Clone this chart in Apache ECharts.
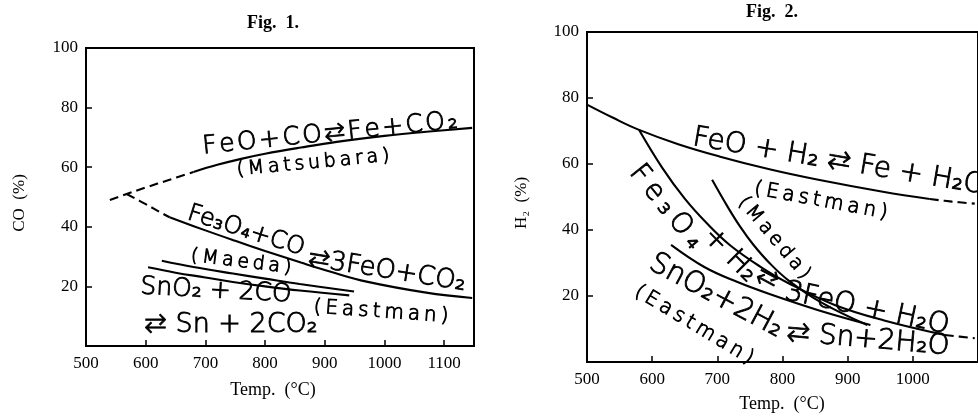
<!DOCTYPE html>
<html>
<head>
<meta charset="utf-8">
<script src="https://cdn.jsdelivr.net/npm/echarts/dist/echarts.min.js"></script>
<style>
html,body{margin:0;padding:0;background:#fff;}
#c{width:978px;height:416px;}
</style>
</head>
<body>
<div id="c"></div>
<script>
// ---------------- DATA ----------------
// Fig. 1 : CO (%) vs Temp (°C)
const f1XTicks = [500, 600, 700, 800, 900, 1000, 1100];
const f1YTicks = [20, 40, 60, 80, 100];
// FeO + CO <-> Fe + CO2 (Matsubara)
const f1FeODashT = [540, 568, 600, 640, 680];
const f1FeODashV = [49, 51, 53.2, 55.8, 58.4];
const f1FeOT = [680, 720, 760, 800, 860, 920, 1000, 1070, 1147];
const f1FeOV = [58.4, 60.8, 62.8, 64.5, 66.6, 68.5, 70.5, 71.9, 73.2];
// Fe3O4 + CO <-> 3FeO + CO2 (Maeda)
const f1Fe3O4DashT = [568, 600, 627, 640];
const f1Fe3O4DashV = [51, 47.6, 44.6, 43.2];
const f1Fe3O4T = [640, 700, 750, 800, 860, 910, 970, 1070, 1147];
const f1Fe3O4V = [43.2, 38.8, 35.3, 31.9, 28, 24.9, 21.6, 17.9, 16.1];
// SnO2 + 2CO <-> Sn + 2CO2 (two curves)
const f1SnAT = [627, 680, 746, 800, 858, 949];
const f1SnAV = [28.6, 26.5, 24.3, 22.6, 20.8, 18.3];
const f1SnBT = [604, 650, 700, 746, 800, 858, 941];
const f1SnBV = [26.4, 24.6, 23, 21.5, 20, 18.6, 17];

// Fig. 2 : H2 (%) vs Temp (°C)
const f2XTicks = [500, 600, 700, 800, 900, 1000];
const f2YTicks = [20, 40, 60, 80, 100];
// FeO + H2 <-> Fe + H2O (Eastman)
const f2FeOT = [500, 540, 578, 640, 703, 780, 853, 954, 1026];
const f2FeOV = [78, 74, 70.5, 66, 62.3, 58.4, 55.3, 51.6, 49.4];
const f2FeODashT = [1026, 1060, 1095];
const f2FeODashV = [49.4, 48.6, 48];
// Fe3O4 + H2 <-> 3FeO + H2O
const f2Fe3O4T = [580, 615, 650, 685, 720, 765, 810, 880, 956, 1049];
const f2Fe3O4V = [70.3, 59, 49.5, 41.8, 35.3, 29, 23.8, 17.3, 12.6, 8.2];
const f2Fe3O4DashT = [1049, 1095];
const f2Fe3O4DashV = [8.2, 7.2];
// (Maeda)
const f2MaedaT = [692, 715, 735, 755, 780, 810, 860, 930];
const f2MaedaV = [55.2, 47.3, 41, 35.6, 30, 24.6, 18, 11.2];
// SnO2 + 2H2 <-> Sn + 2H2O (Eastman)
const f2SnT = [629, 680, 730, 780, 855, 935];
const f2SnV = [35.5, 28.8, 24.3, 20.6, 15.7, 11.2];

// Texts
const titles = ['Fig.  1.', 'Fig.  2.'];
const xNames = ['Temp.  (°C)', 'Temp.  (°C)'];
const yNames = ['CO  (%)', 'H₂  (%)'];

// ---------------- CHART ----------------
const chart = echarts.init(document.getElementById('c'), null, {renderer: 'canvas'});
const pts = (T, V) => T.map((t, i) => [t, V[i]]);
const sp = s => s.split('').join('\u2009');
const sph = s => s.split('').join('\u200A');
function line(T, V, gi, dashed) {
  return {
    type: 'line', xAxisIndex: gi, yAxisIndex: gi, data: pts(T, V),
    smooth: 0.4, showSymbol: false, symbol: 'none',
    silent: true, animation: false,
    lineStyle: {color: '#000', width: 2.1, type: dashed ? [9, 5] : 'solid'}
  };
}
const serif = "'Liberation Serif', 'DejaVu Serif', serif";
const hand = "'DejaVu Sans', sans-serif";
function xAx(gi, max, ticks) {
  return {
    gridIndex: gi, type: 'value', min: ticks[0], max: max, interval: ticks[1] - ticks[0],
    axisLine: {show: true, lineStyle: {color: '#000', width: 2}},
    axisTick: {show: true, inside: true, length: 6, lineStyle: {color: '#000', width: 1.5}},
    axisLabel: {color: '#000', fontFamily: serif, fontSize: 17, margin: 9, showMaxLabel: false,
      formatter: v => String(v)},
    splitLine: {show: false}
  };
}
function yAx(gi, ticks) {
  return {
    gridIndex: gi, type: 'value', min: 0, max: ticks[ticks.length - 1], interval: ticks[1] - ticks[0],
    axisLine: {show: true, lineStyle: {color: '#000', width: 2}},
    axisTick: {show: true, inside: true, length: 6, lineStyle: {color: '#000', width: 1.5}},
    axisLabel: {color: '#000', fontFamily: serif, fontSize: 17, margin: 8, showMinLabel: false,
      formatter: v => String(v)},
    splitLine: {show: false}
  };
}
function txt(text, x, y, tilt, size, font, weight) {
  const handStyle = !font;
  return {
    type: 'text', x: x, y: y, rotation: tilt * Math.PI / 180, silent: true,
    style: {
      text: text, fill: '#000',
      stroke: handStyle ? '#000' : null, lineWidth: handStyle ? 0.9 : 0,
      font: (weight || '300') + ' ' + size + 'px ' + (font || hand),
      textAlign: 'center', textVerticalAlign: 'middle', align: 'center', verticalAlign: 'middle'
    }
  };
}

const option = {
  animation: false,
  backgroundColor: '#fff',
  grid: [
    {left: 86, top: 48, width: 388, height: 298, show: true, borderColor: '#000', borderWidth: 2, backgroundColor: 'transparent'},
    {left: 587, top: 32, width: 399, height: 330, show: true, borderColor: '#000', borderWidth: 2, backgroundColor: 'transparent'}
  ],
  xAxis: [xAx(0, 1150, f1XTicks), xAx(1, 1100, f2XTicks)],
  yAxis: [yAx(0, f1YTicks), yAx(1, f2YTicks)],
  series: [
    line(f1FeODashT, f1FeODashV, 0, true),
    line(f1FeOT, f1FeOV, 0, false),
    line(f1Fe3O4DashT, f1Fe3O4DashV, 0, true),
    line(f1Fe3O4T, f1Fe3O4V, 0, false),
    line(f1SnAT, f1SnAV, 0, false),
    line(f1SnBT, f1SnBV, 0, false),
    line(f2FeOT, f2FeOV, 1, false),
    line(f2FeODashT, f2FeODashV, 1, true),
    line(f2Fe3O4T, f2Fe3O4V, 1, false),
    line(f2Fe3O4DashT, f2Fe3O4DashV, 1, true),
    line(f2MaedaT, f2MaedaV, 1, false),
    line(f2SnT, f2SnV, 1, false)
  ],
  graphic: [
    // titles and axis names
    txt(titles[0], 273, 23, 0, 18, serif, 'bold'),
    txt(titles[1], 772, 12, 0, 18, serif, 'bold'),
    txt(xNames[0], 273, 390, 0, 18, serif, 'normal'),
    txt(xNames[1], 782, 404, 0, 18, serif, 'normal'),
    txt(yNames[0], 20, 203, 90, 17, serif, 'normal'),
    txt(yNames[1], 522, 203, 90, 17, serif, 'normal'),
    // Fig. 1 annotations
    txt(sph('FeO+CO⇄Fe+CO₂'), 330, 134, 5.8, 25),
    txt(sp('(Matsubara)'), 313, 163, 5.4, 19),
    txt('Fe₃O₄+CO', 246, 231, -17.5, 24),
    txt('⇄3FeO+CO₂', 387, 271, -9, 26),
    txt(sp('(Maeda)'), 241, 262, -7, 19),
    txt('SnO₂ + 2CO', 216, 291, -3, 25),
    txt(sp('(Eastman)'), 381, 312, -4, 20),
    txt('⇄ Sn + 2CO₂', 231, 325, 0, 27),
    // Fig. 2 annotations
    txt('FeO + H₂ ⇄ Fe + H₂O', 839, 162, -9.5, 28),
    txt(sp('(Eastman)'), 821, 201, -10.5, 20),
    txt(sp('Fe₃O₄'), 666, 207, -51, 28),
    txt('+ H₂', 730, 255, -45, 28),
    txt('⇄', 767, 279, -28, 26),
    txt('3FeO + H₂O', 867, 309, -12, 28),
    txt(sp('(Maeda)'), 774, 238, -50, 19),
    txt('SnO₂+2H₂', 716, 296, -28, 29),
    txt('⇄ Sn+2H₂O', 868, 340, -5, 28),
    txt(sp('(Eastman)'), 694, 325, -31, 20)
  ]
};
chart.setOption(option);
</script>
</body>
</html>
